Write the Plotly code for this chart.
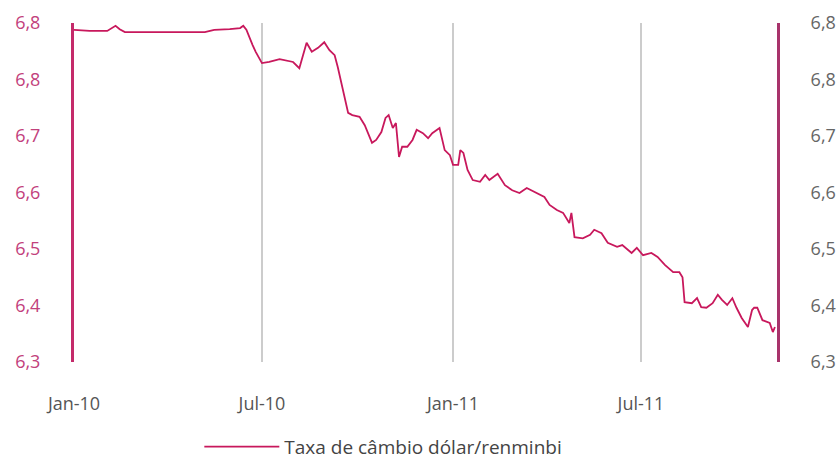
import plotly.graph_objects as go

dates = [
    "2010-01-01", "2010-01-16", "2010-02-02", "2010-02-07", "2010-02-10", "2010-02-14", "2010-02-19",
    "2010-03-24", "2010-05-07", "2010-05-16", "2010-05-31", "2010-06-10", "2010-06-13", "2010-06-16",
    "2010-06-19", "2010-06-22", "2010-06-25", "2010-06-28", "2010-07-01", "2010-07-08", "2010-07-18",
    "2010-07-31", "2010-08-06", "2010-08-13", "2010-08-18", "2010-08-24", "2010-08-30", "2010-09-04",
    "2010-09-09", "2010-09-12", "2010-09-16", "2010-09-19", "2010-09-22", "2010-09-26", "2010-10-03",
    "2010-10-08", "2010-10-15", "2010-10-19", "2010-10-24", "2010-10-28", "2010-10-31", "2010-11-04",
    "2010-11-07", "2010-11-10", "2010-11-13", "2010-11-18", "2010-11-23", "2010-11-27", "2010-12-03",
    "2010-12-08", "2010-12-12", "2010-12-19", "2010-12-24", "2010-12-29", "2011-01-01", "2011-01-06",
    "2011-01-08", "2011-01-11", "2011-01-15", "2011-01-20", "2011-01-27", "2011-02-01", "2011-02-05",
    "2011-02-13", "2011-02-20", "2011-02-27", "2011-03-06", "2011-03-13", "2011-03-23", "2011-03-30",
    "2011-04-04", "2011-04-11", "2011-04-17", "2011-04-23", "2011-04-25", "2011-04-28", "2011-05-06",
    "2011-05-13", "2011-05-17", "2011-05-24", "2011-05-30", "2011-06-08", "2011-06-13", "2011-06-22",
    "2011-06-27", "2011-07-03", "2011-07-11", "2011-07-17", "2011-07-24", "2011-08-01", "2011-08-07",
    "2011-08-10", "2011-08-12", "2011-08-19", "2011-08-24", "2011-08-28", "2011-09-02", "2011-09-08",
    "2011-09-13", "2011-09-17", "2011-09-22", "2011-09-27", "2011-10-01", "2011-10-06", "2011-10-12",
    "2011-10-16", "2011-10-18", "2011-10-21", "2011-10-26", "2011-11-02", "2011-11-05", "2011-11-07",
]
rate = [
    6.888, 6.886, 6.886, 6.891, 6.895, 6.889, 6.884,
    6.884, 6.884, 6.888, 6.889, 6.891, 6.895, 6.888,
    6.873, 6.861, 6.849, 6.838, 6.829, 6.831, 6.836,
    6.831, 6.820, 6.865, 6.849, 6.856, 6.866, 6.852,
    6.843, 6.822, 6.787, 6.764, 6.741, 6.737, 6.734,
    6.719, 6.688, 6.693, 6.707, 6.732, 6.737, 6.714,
    6.723, 6.663, 6.681, 6.681, 6.693, 6.711, 6.705,
    6.696, 6.705, 6.714, 6.675, 6.666, 6.649, 6.649,
    6.675, 6.670, 6.640, 6.622, 6.619, 6.631, 6.622,
    6.633, 6.613, 6.604, 6.599, 6.608, 6.599, 6.592,
    6.578, 6.569, 6.564, 6.546, 6.564, 6.521, 6.519,
    6.525, 6.534, 6.528, 6.511, 6.504, 6.507, 6.493,
    6.502, 6.489, 6.493, 6.486, 6.472, 6.459, 6.459,
    6.450, 6.406, 6.404, 6.413, 6.397, 6.396, 6.404,
    6.419, 6.410, 6.401, 6.413, 6.396, 6.378, 6.362,
    6.392, 6.396, 6.396, 6.374, 6.369, 6.353, 6.362,
]

y_tickvals = [6.3, 6.4, 6.5, 6.6, 6.7, 6.8, 6.9]
y_ticktext = ["6,3", "6,4", "6,5", "6,6", "6,7", "6,8", "6,8"]
x_tickvals = ["2010-01-01", "2010-07-01", "2011-01-01", "2011-07-01"]
x_ticktext = ["Jan-10", "Jul-10", "Jan-11", "Jul-11"]
series_name = "Taxa de câmbio dólar/renminbi"

FONT = "'Open Sans', Lato, sans-serif"

fig = go.Figure()
fig.add_trace(go.Scatter(
    x=dates, y=rate, mode="lines", name=series_name,
    line=dict(color="#c8185c", width=1.8),
))
fig.add_trace(go.Scatter(
    x=dates, y=rate, mode="lines", yaxis="y2", showlegend=False,
    hoverinfo="skip", line=dict(color="rgba(0,0,0,0)", width=0),
))

fig.update_layout(
    width=840, height=461,
    margin=dict(l=74, r=63, t=23, b=99, autoexpand=False),
    paper_bgcolor="white", plot_bgcolor="white",
    font=dict(family=FONT, size=18, color="#555"),
    showlegend=True,
    legend=dict(orientation="h", x=0.44, xanchor="center", y=-0.25, yanchor="middle",
                font=dict(size=19, color="#444"), itemwidth=75,
                bgcolor="rgba(0,0,0,0)"),
    xaxis=dict(
        type="date", range=["2010-01-01", "2011-11-09"],
        tickvals=x_tickvals, ticktext=x_ticktext,
        showgrid=True, gridcolor="#cccccc", gridwidth=1.5,
        showline=False, zeroline=False,
        ticks="outside", ticklen=25, tickcolor="rgba(0,0,0,0)",
        tickfont=dict(size=18, color="#555"),
    ),
    yaxis=dict(
        range=[6.3, 6.9], tickvals=y_tickvals, ticktext=y_ticktext,
        showgrid=False, zeroline=False,
        showline=True, linecolor="#c42a6a", linewidth=3,
        ticks="outside", ticklen=27, tickcolor="rgba(0,0,0,0)",
        tickfont=dict(size=18, color="#c2417c"),
    ),
    yaxis2=dict(
        range=[6.3, 6.9], tickvals=y_tickvals, ticktext=y_ticktext,
        overlaying="y", side="right",
        showgrid=False, zeroline=False,
        showline=True, linecolor="#a8336b", linewidth=3,
        ticks="outside", ticklen=27, tickcolor="rgba(0,0,0,0)",
        tickfont=dict(size=18, color="#666"),
    ),
)

fig.write_html("out.html")
